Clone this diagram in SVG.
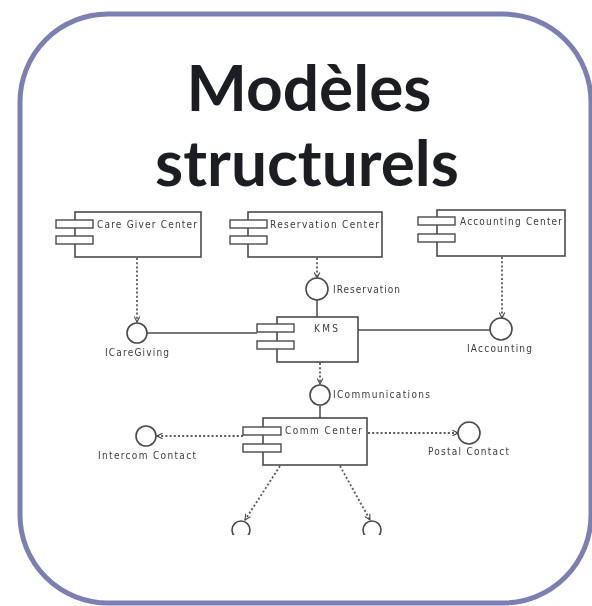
<svg xmlns="http://www.w3.org/2000/svg" width="592" height="606" viewBox="0 0 592 606">
  <defs>
    <style>
      .frame { fill: #ffffff; stroke: #7c7fb1; stroke-width: 5; }
      .title { font-family: Lato, "Open Sans", sans-serif; font-weight: 700; font-size: 64px; fill: #1b1d22; text-anchor: middle; }
      .box { fill: #ffffff; stroke: #4a4a4a; stroke-width: 1.6; }
      .port { fill: #ffffff; stroke: #4a4a4a; stroke-width: 1.4; }
      .iface { fill: #ffffff; stroke: #4a4a4a; stroke-width: 1.6; }
      .solid { fill: none; stroke: #4a4a4a; stroke-width: 1.5; }
      .dep { fill: none; stroke: #5a5a5a; stroke-width: 1.8; stroke-dasharray: 2 2.2; }
      .lbl { font-family: "DejaVu Sans Condensed", "DejaVu Sans", "Liberation Sans", sans-serif; font-size: 10px; fill: #3c3c3c; }
    </style>
    <marker id="open" viewBox="0 0 10 10" refX="9" refY="5" markerWidth="7" markerHeight="7" orient="auto" markerUnits="userSpaceOnUse">
      <path d="M1,1 L9,5 L1,9" fill="none" stroke="#4a4a4a" stroke-width="1.6"/>
    </marker>
    <filter id="soft" x="-5%" y="-5%" width="110%" height="110%">
      <feGaussianBlur stdDeviation="0.45"/>
    </filter>
    <clipPath id="area">
      <rect x="40" y="203" width="535" height="332"/>
    </clipPath>
  </defs>

  <!-- card frame -->
  <rect class="frame" x="20" y="14" width="571" height="589" rx="88" ry="88"/>

  <!-- heading -->
  <g id="heading">
    <text class="title" x="309" y="111">Modèles</text>
    <text class="title" x="307" y="186">structurels</text>
  </g>

  <g clip-path="url(#area)" filter="url(#soft)">
    <!-- connectors -->
    <g id="connectors">
      <line class="dep" x1="137" y1="258" x2="137" y2="322" marker-end="url(#open)"/>
      <line class="dep" x1="317" y1="258" x2="317" y2="278" marker-end="url(#open)"/>
      <line class="dep" x1="502" y1="257" x2="502" y2="318" marker-end="url(#open)"/>
      <line class="solid" x1="147" y1="333" x2="257" y2="333"/>
      <line class="solid" x1="317" y1="300" x2="317" y2="317"/>
      <line class="solid" x1="358" y1="330" x2="490" y2="330"/>
      <line class="dep" x1="320" y1="363" x2="320" y2="384" marker-end="url(#open)"/>
      <line class="solid" x1="320" y1="406" x2="320" y2="418"/>
      <line class="dep" x1="243" y1="436" x2="157" y2="436" marker-end="url(#open)"/>
      <line class="dep" x1="368" y1="433" x2="458" y2="433" marker-end="url(#open)"/>
      <line class="dep" x1="280" y1="466" x2="245" y2="520" marker-end="url(#open)"/>
      <line class="dep" x1="340" y1="466" x2="370" y2="520" marker-end="url(#open)"/>
    </g>

    <!-- components -->
    <g id="care-giver-center">
      <rect class="box" x="75" y="212" width="126" height="45"/>
      <rect class="port" x="56" y="220" width="37" height="8"/>
      <rect class="port" x="56" y="236" width="37" height="8"/>
      <text class="lbl" x="97" y="228" textLength="100">Care Giver Center</text>
    </g>
    <g id="reservation-center">
      <rect class="box" x="248" y="212" width="134" height="45"/>
      <rect class="port" x="230" y="220" width="37" height="8"/>
      <rect class="port" x="230" y="236" width="37" height="8"/>
      <text class="lbl" x="270" y="228" textLength="109">Reservation Center</text>
    </g>
    <g id="accounting-center">
      <rect class="box" x="437" y="210" width="128" height="46"/>
      <rect class="port" x="418" y="217" width="37" height="8"/>
      <rect class="port" x="418" y="234" width="37" height="8"/>
      <text class="lbl" x="460" y="225" textLength="102">Accounting Center</text>
    </g>
    <g id="kms">
      <rect class="box" x="277" y="317" width="81" height="45"/>
      <rect class="port" x="257" y="324" width="37" height="8"/>
      <rect class="port" x="257" y="341" width="37" height="8"/>
      <text class="lbl" x="314" y="332" textLength="24">KMS</text>
    </g>
    <g id="comm-center">
      <rect class="box" x="263" y="418" width="104" height="47"/>
      <rect class="port" x="243" y="427" width="38" height="8"/>
      <rect class="port" x="243" y="444" width="38" height="8"/>
      <text class="lbl" x="285" y="434" textLength="77">Comm Center</text>
    </g>

    <!-- interfaces -->
    <g id="icaregiving">
      <circle class="iface" cx="137" cy="333" r="10"/>
      <text class="lbl" x="105" y="356" textLength="64">ICareGiving</text>
    </g>
    <g id="ireservation">
      <circle class="iface" cx="317" cy="289" r="11"/>
      <text class="lbl" x="333" y="293" textLength="67">IReservation</text>
    </g>
    <g id="iaccounting">
      <circle class="iface" cx="501" cy="329" r="11"/>
      <text class="lbl" x="467" y="352" textLength="65">IAccounting</text>
    </g>
    <g id="icommunications">
      <circle class="iface" cx="320" cy="395" r="10"/>
      <text class="lbl" x="333" y="398" textLength="97">ICommunications</text>
    </g>
    <g id="intercom-contact">
      <circle class="iface" cx="146" cy="436" r="10"/>
      <text class="lbl" x="98" y="459" textLength="98">Intercom Contact</text>
    </g>
    <g id="postal-contact">
      <circle class="iface" cx="469" cy="433" r="11"/>
      <text class="lbl" x="428" y="455" textLength="81">Postal Contact</text>
    </g>
    <g id="lower-left-interface">
      <circle class="iface" cx="241" cy="530" r="9"/>
    </g>
    <g id="lower-right-interface">
      <circle class="iface" cx="372" cy="530" r="9"/>
    </g>
  </g>
</svg>
